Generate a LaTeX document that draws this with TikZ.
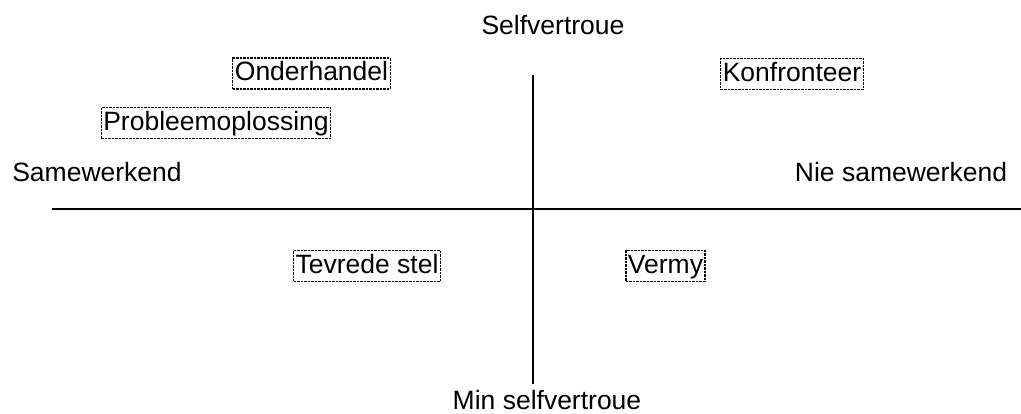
\documentclass[tikz,border=0pt]{standalone}
\usepackage{fontspec}
\setmainfont{Liberation Sans}
\begin{document}
\begin{tikzpicture}[x=1pt,y=-1pt,
  lbl/.style={font=\fontsize{26.5}{30}\selectfont, inner sep=0pt, anchor=base},
  frame/.style={font=\fontsize{26.5}{30}\selectfont, draw, line width=1.2pt,
    dash pattern=on 2.5pt off 1pt, inner xsep=2pt, inner ysep=2pt,
    text height=21pt, text depth=6pt, anchor=center},
  vaxis/.style={line width=1.4pt},
  haxis/.style={line width=2pt}]
\useasboundingbox (0,0) rectangle (1021,414);
\coordinate (vt) at (533,75);
\coordinate (vb) at (533,384);
\coordinate (hl) at (52,209);
\coordinate (hr) at (1021,209);
\draw[vaxis] (vt) -- (vb);
\draw[haxis] (hl) -- (hr);
\node[lbl] (top) at (553,35) {Selfvertroue};
\node[lbl] (bot) at (547,409) {Min selfvertroue};
\node[lbl] (left) at (97,182) {Samewerkend};
\node[lbl] (right) at (901,182) {Nie samewerkend};
\node[frame] (ond) at (311.5,73.5) {Onderhandel};
\node[frame] (kon) at (792,74) {Konfronteer};
\node[frame] (pro) at (216,123) {Probleemoplossing};
\node[frame] (tev) at (367,266) {Tevrede stel};
\node[frame] (ver) at (665.5,266) {Vermy};
\end{tikzpicture}
\end{document}
